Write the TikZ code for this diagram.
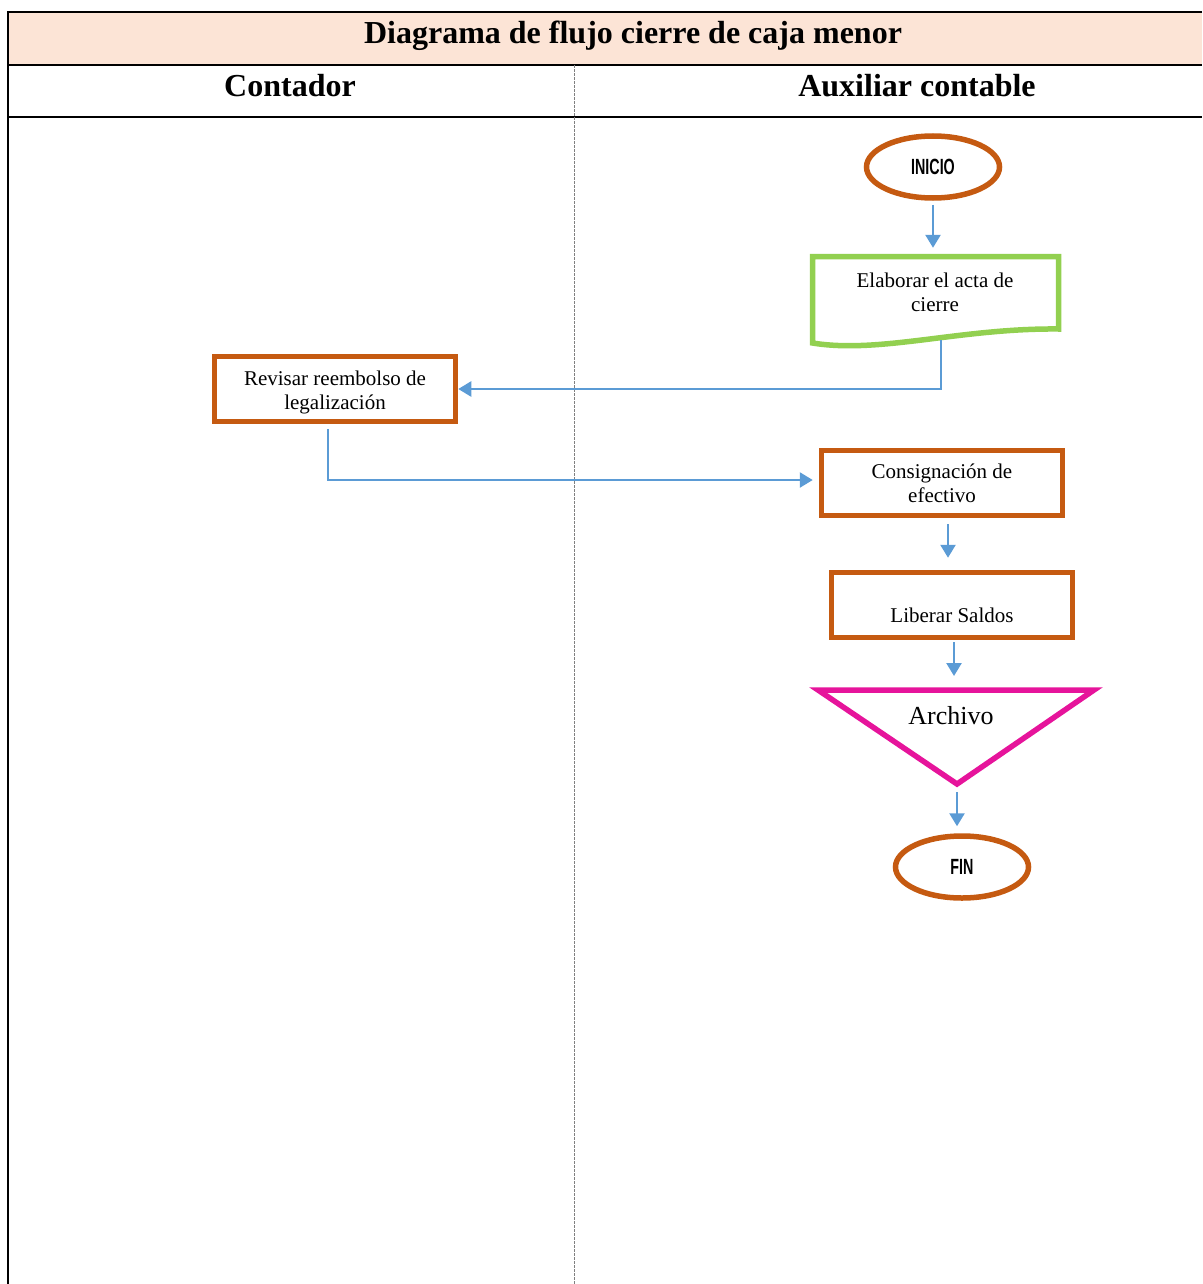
\documentclass[tikz,border=0pt]{standalone}
\usepackage{fontspec}
\setmainfont{Liberation Serif}
\newfontfamily\finfont[FakeStretch=0.65]{Liberation Sans}
\usetikzlibrary{arrows.meta,shapes.geometric}
\definecolor{cafe}{HTML}{C55A11}
\definecolor{verde}{HTML}{92D050}
\definecolor{azul}{HTML}{5B9BD5}
\definecolor{fucsia}{HTML}{E6149B}
\definecolor{durazno}{HTML}{FCE4D6}
\begin{document}
\begin{tikzpicture}[x=1pt, y=-1pt,
  proc/.style={draw=cafe, line width=5.5pt, minimum width=241pt, minimum height=65pt,
    inner sep=0pt, align=center, font=\fontsize{21}{24}\selectfont},
  txt/.style={inner sep=0pt, align=center, font=\fontsize{21}{24}\selectfont},
  term/.style={draw=cafe, line width=5.5pt, ellipse, minimum width=133pt, minimum height=62pt,
    inner sep=0pt, font=\finfont\bfseries\fontsize{22}{24}\selectfont},
  flow/.style={draw=azul, line width=2.5pt, -{Triangle[width=15pt,length=13pt]}},
  head/.style={font=\bfseries\fontsize{32}{34}\selectfont}]
\useasboundingbox (0,0) rectangle (1202,1284);
\fill[durazno] (8,12) rectangle (1202,65);
\draw[line width=2pt] (1202,12) -- (8,12) -- (8,1284);
\draw[line width=2pt] (8,65) -- (1202,65);
\draw[line width=2pt] (8,117) -- (1202,117);
\draw[gray, line width=1pt, dash pattern=on 3pt off 1pt] (574,65) -- (574,1284);
\node[head] (titulo) at (633,36) {Diagrama de flujo cierre de caja menor};
\node[head] (contador) at (290,86) {Contador};
\node[head] (auxiliar) at (917,86) {Auxiliar contable};

\node[term] (inicio) at (933,167) {INICIO};
\node[txt, minimum width=246pt, minimum height=70pt] (acta) at (935,292) {Elaborar el acta de\\cierre};
\draw[verde, line width=5.5pt, line join=miter]
  (812.5,256.5) -- (1058.5,256.5) -- (1058.5,329)
  .. controls (960,328) and (880,354) .. (812.5,343) -- cycle;
\coordinate (actab) at (941,340);
\node[proc] (revisar) at (335,389) {};
\node[txt] (revisart) at (335,392) {Revisar reembolso de\\legalización};
\node[proc] (consig) at (942,483) {Consignación de\\efectivo};
\node[proc] (liberar) at (952,605) {};
\node[txt] (liberart) at (952,615) {Liberar Saldos};
\coordinate (tria) at (818,690);
\coordinate (trib) at (1094,690);
\coordinate (tric) at (957,784);
\draw[fucsia, line width=5.5pt, line join=miter] (tria) -- (trib) -- (tric) -- cycle;
\node[font=\fontsize{26}{28}\selectfont] (archivo) at (951,716) {Archivo};
\node[term] (fin) at (962,867) {FIN};

\draw[flow, shorten <=4pt, shorten >=9pt] (inicio.south) -- (inicio.south |- acta.north);
\draw[flow] (actab) |- (revisar.east);
\draw[flow, shorten <=5pt, shorten >=6pt] ([xshift=-7pt]revisar.south) |- ([yshift=3pt]consig.west);
\draw[flow, shorten <=6pt, shorten >=12pt] ([xshift=6pt]consig.south) -- ([xshift=-4pt]liberar.north);
\draw[flow, shorten <=2pt, shorten >=11pt] ([xshift=2pt]liberar.south) -- (954,687);
\draw[flow, shorten <=8pt, shorten >=7pt] (tric) -- (fin.north -| tric);
\end{tikzpicture}
\end{document}
